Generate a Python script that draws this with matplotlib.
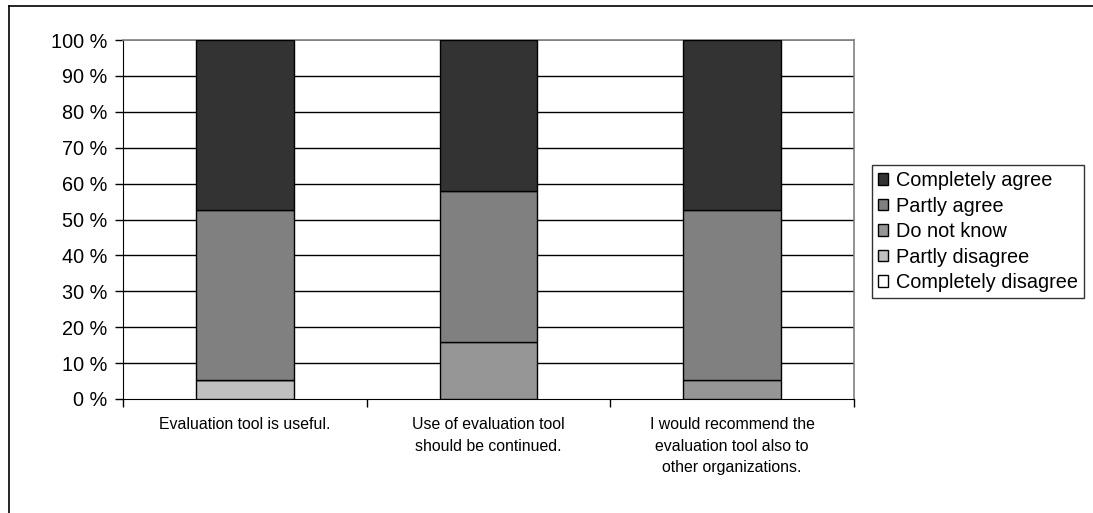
import matplotlib
matplotlib.use("Agg")
import matplotlib.pyplot as plt
from matplotlib.patches import Patch
from matplotlib.lines import Line2D
import numpy as np

plt.rcParams['font.family'] = ['Liberation Sans', 'DejaVu Sans']

categories = [
    "Evaluation tool is useful.",
    "Use of evaluation tool\nshould be continued.",
    "I would recommend the\nevaluation tool also to\nother organizations.",
]
series_names = ["Completely disagree", "Partly disagree", "Do not know",
                "Partly agree", "Completely agree"]
series_colors = ["#FFFFFF", "#C0C0C0", "#969696", "#808080", "#333333"]
# Shares in percent, bottom to top
completely_disagree = [0.0, 0.0, 0.0]
partly_disagree = [5.3, 0.0, 0.0]
do_not_know = [0.0, 15.8, 5.3]
partly_agree = [47.3, 42.1, 47.3]
completely_agree = [47.4, 42.1, 47.4]
series_values = [completely_disagree, partly_disagree, do_not_know,
                 partly_agree, completely_agree]
y_ticks = list(range(0, 101, 10))
y_tick_labels = [f"{v} %" for v in y_ticks]

W, H = 1093, 513
fig = plt.figure(figsize=(W / 100, H / 100), dpi=100)
ax = fig.add_axes([123 / W, 1 - 399 / H, (854 - 123) / W, (399 - 40) / H])

x = np.arange(len(categories))
bottom = np.zeros(len(categories))
for name, color, vals in zip(series_names, series_colors, series_values):
    vals = np.array(vals)
    ax.bar(x, vals, width=0.4, bottom=bottom, color=color, edgecolor="black",
           linewidth=1.0, zorder=3)
    bottom += vals

ax.set_xlim(-0.5, len(categories) - 0.5)
ax.set_ylim(0, 100)
ax.set_yticks(y_ticks)
ax.set_yticklabels(y_tick_labels, fontsize=14.3)
for v in y_ticks[1:-1]:
    ax.axhline(v, color="black", linewidth=1.0, zorder=1)
ax.axhline(100, color="#808080", linewidth=1.2, zorder=1)

ax.set_xticks(x)
ax.set_xticklabels(categories, fontsize=11.4, linespacing=1.55, va="top")
ax.tick_params(axis="x", which="major", length=0, pad=13)
ax.set_xticks(np.arange(-0.5, len(categories)), minor=True)
ax.tick_params(axis="x", which="minor", length=6, width=1, color="black",
               direction="out")
ax.tick_params(axis="y", length=6, width=1, direction="out", pad=5)

for side in ["top", "right"]:
    ax.spines[side].set_color("#808080")
    ax.spines[side].set_linewidth(1.2)
ax.spines["left"].set_color("black")
ax.spines["bottom"].set_color("black")

handles = [Patch(facecolor=c, edgecolor="black", linewidth=1.0, label=n)
           for n, c in zip(series_names, series_colors)][::-1]
leg = fig.legend(handles=handles, loc="upper left",
                 bbox_to_anchor=(872 / W, 1 - 165 / H), fontsize=14.3,
                 frameon=True, fancybox=False, edgecolor="black",
                 handlelength=0.5, handleheight=0.5, handletextpad=0.4,
                 borderpad=0.3, labelspacing=0.33, borderaxespad=0)
leg.get_frame().set_linewidth(1.0)

# Outer chart frame (top and left edges)
fig.add_artist(Line2D([9 / W, 9 / W], [0, 1 - 6 / H], color="black",
                      linewidth=1.2, transform=fig.transFigure))
fig.add_artist(Line2D([9 / W, 1], [1 - 6 / H, 1 - 6 / H], color="black",
                      linewidth=1.2, transform=fig.transFigure))

fig.savefig("out.png", dpi=100)
